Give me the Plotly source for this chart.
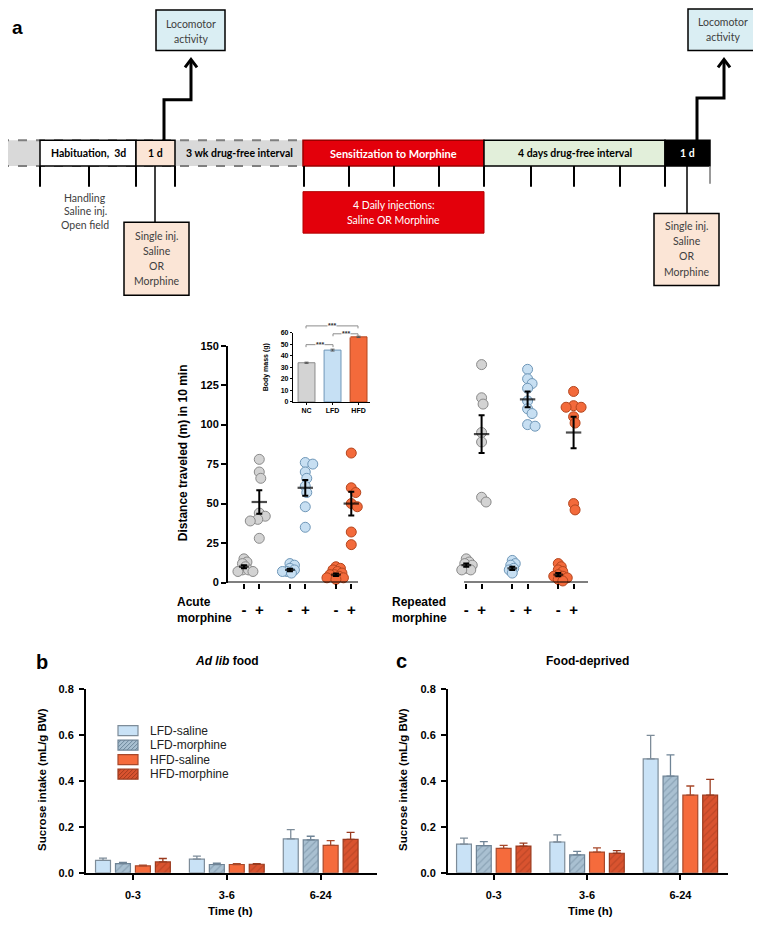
import plotly.graph_objects as go

W, H = 761, 927
OFF = 8  # page offset of the figure (body margin)
def fx(p): return (p - OFF) / W
def fy(p): return 1 - (p - OFF) / H

# ---------------- data ----------------
# panel a: distance traveled (m) in 10 min
acute_nc_saline = [15, 13, 12, 10, 8, 8, 7, 7]
acute_nc_morphine = [78, 70, 66, 44, 42, 40, 39, 28]
acute_lfd_saline = [12, 11, 9, 8, 7, 7, 6]
acute_lfd_morphine = [76, 75, 70, 66, 61, 57, 48, 35]
acute_hfd_saline = [10, 9, 8, 7, 6, 5, 5, 4, 3, 3, 2]
acute_hfd_morphine = [82, 60, 57, 50, 48, 32, 24]
rep_nc_saline = [15, 13, 12, 11, 9, 8, 8]
rep_nc_morphine = [138, 117, 113, 95, 89, 54, 51]
rep_lfd_saline = [14, 12, 11, 9, 8, 6]
rep_lfd_morphine = [135, 129, 126, 123, 115, 110, 107, 100, 99]
rep_hfd_saline = [12, 10, 8, 7, 5, 4, 4, 3, 2, 1]
rep_hfd_morphine = [121, 112, 111, 111, 105, 101, 50, 46]
acute_mean = [10, 51, 8, 60, 5, 50]
acute_sem = [1.0, 7.5, 0.8, 5.0, 0.8, 7.5]
repeated_mean = [11, 94, 9, 116, 5, 95]
repeated_sem = [1.0, 12.0, 1.0, 5.0, 1.0, 10.0]
treatment_labels = ["-", "+"]

# inset: body mass
body_groups = ["NC", "LFD", "HFD"]
body_mass = [34, 45, 56.5]
body_sem = [0.5, 0.8, 0.6]

# panels b, c: sucrose intake
time_labels = ["0-3", "3-6", "6-24"]
series_names = ["LFD-saline", "LFD-morphine", "HFD-saline", "HFD-morphine"]
adlib_lfd_saline = [0.054, 0.059, 0.148]
adlib_lfd_morphine = [0.040, 0.036, 0.143]
adlib_hfd_saline = [0.030, 0.036, 0.119]
adlib_hfd_morphine = [0.047, 0.037, 0.145]
adlib_lfd_saline_sem = [0.010, 0.013, 0.040]
adlib_lfd_morphine_sem = [0.005, 0.006, 0.016]
adlib_hfd_saline_sem = [0.003, 0.004, 0.021]
adlib_hfd_morphine_sem = [0.015, 0.003, 0.031]
fd_lfd_saline = [0.125, 0.134, 0.496]
fd_lfd_morphine = [0.118, 0.078, 0.421]
fd_hfd_saline = [0.106, 0.090, 0.338]
fd_hfd_morphine = [0.116, 0.085, 0.338]
fd_lfd_saline_sem = [0.026, 0.031, 0.103]
fd_lfd_morphine_sem = [0.018, 0.015, 0.093]
fd_hfd_saline_sem = [0.013, 0.018, 0.040]
fd_hfd_morphine_sem = [0.013, 0.011, 0.069]

# ---------------- styles ----------------
ARIAL = "Liberation Sans, Arial, sans-serif"
CAL = "Lato, sans-serif"
grp_fill = {"NC": "#d3d3d3", "LFD": "#c7dff2", "HFD": "#f36a3b"}
grp_edge = {"NC": "#8a8a8a", "LFD": "#6f97b8", "HFD": "#b4461e"}
bar_style = {
    "LFD-saline": dict(color="#c9e2f6", edge="#7d8c99", pattern=None),
    "LFD-morphine": dict(color="#a9c0d1", edge="#6f8496", pattern="#6e889c"),
    "HFD-saline": dict(color="#f56b3c", edge="#a8482a", pattern=None),
    "HFD-morphine": dict(color="#d9532f", edge="#9a3a1e", pattern="#a33b1f"),
}

fig = go.Figure()

# ---------------- beeswarm helper (pixel space) ----------------
XU = 15.33  # px per x unit
YU = 1.6    # px per y unit
def swarm(vals, d=6.0, step=1.5):
    placed, offs = [], []
    cands = [0.0]
    for i in range(1, 40):
        cands += [i * step, -i * step]
    for v in vals:
        yv = v * YU
        for c in cands:
            if all((c - px) ** 2 + (yv - py) ** 2 >= d * d for px, py in placed):
                break
        placed.append((c, yv))
        offs.append(c / XU)
    return offs

acute_sets = [("NC", acute_nc_saline), ("NC", acute_nc_morphine),
              ("LFD", acute_lfd_saline), ("LFD", acute_lfd_morphine),
              ("HFD", acute_hfd_saline), ("HFD", acute_hfd_morphine)]
rep_sets = [("NC", rep_nc_saline), ("NC", rep_nc_morphine),
            ("LFD", rep_lfd_saline), ("LFD", rep_lfd_morphine),
            ("HFD", rep_hfd_saline), ("HFD", rep_hfd_morphine)]

def positions(start):
    out = []
    for g in range(3):
        for t in range(2):
            out.append(start + 3 * g + t)
    return out

acute_pos = positions(0)
rep_pos = positions(14.5)

for sets, pos in ((acute_sets, acute_pos), (rep_sets, rep_pos)):
    for k, ((grp, vals), p) in enumerate(zip(sets, pos)):
        offs = swarm(vals, d=4.2 if k % 2 == 0 else 6.5)
        fig.add_trace(go.Scatter(
            x=[p + o for o in offs], y=vals, mode="markers",
            marker=dict(size=10, color=grp_fill[grp], line=dict(color=grp_edge[grp], width=1)),
            cliponaxis=False, showlegend=False, xaxis="x", yaxis="y", hoverinfo="skip"))

for pos, mean, sem in ((acute_pos, acute_mean, acute_sem), (rep_pos, repeated_mean, repeated_sem)):
    fig.add_trace(go.Scatter(
        x=pos, y=mean, mode="markers",
        marker=dict(symbol="line-ew", size=[7, 11] * 3, line=dict(width=2.2, color="black")),
        error_y=dict(type="data", array=sem, color="black", thickness=2, width=3),
        cliponaxis=False, showlegend=False, xaxis="x", yaxis="y"))

# inset bars
fig.add_trace(go.Bar(
    x=body_groups, y=body_mass, width=0.65,
    marker=dict(color=[grp_fill[g] if g != "LFD" else "#c6e0f4" for g in body_groups],
                line=dict(color=[grp_edge[g] for g in body_groups], width=1)),
    error_y=dict(type="data", array=body_sem, color="#555", thickness=1, width=2),
    showlegend=False, xaxis="x2", yaxis="y2"))

# panels b and c
b_series = [adlib_lfd_saline, adlib_lfd_morphine, adlib_hfd_saline, adlib_hfd_morphine]
b_sems = [adlib_lfd_saline_sem, adlib_lfd_morphine_sem, adlib_hfd_saline_sem, adlib_hfd_morphine_sem]
c_series = [fd_lfd_saline, fd_lfd_morphine, fd_hfd_saline, fd_hfd_morphine]
c_sems = [fd_lfd_saline_sem, fd_lfd_morphine_sem, fd_hfd_saline_sem, fd_hfd_morphine_sem]

for series, sems, xa, ya in ((b_series, b_sems, "x3", "y3"), (c_series, c_sems, "x4", "y4")):
    for name, vals, sem in zip(series_names, series, sems):
        st = bar_style[name]
        marker = dict(color=st["color"], line=dict(color=st["edge"], width=1.2))
        if st["pattern"]:
            marker["pattern"] = dict(shape="/", fgcolor=st["pattern"], bgcolor=st["color"],
                                     size=5, solidity=0.25)
        fig.add_trace(go.Bar(
            x=time_labels, y=vals, name=name, marker=marker,
            error_y=dict(type="data", array=sem, arrayminus=[0] * len(sem), symmetric=False,
                         color=st["edge"], thickness=1.3, width=4),
            showlegend=False, xaxis=xa, yaxis=ya))

# ---------------- timeline (diagram) ----------------
shapes = []
ann = []

def rect(x0, y0, x1, y1, fill, line="black", lw=1.5):
    shapes.append(dict(type="rect", xref="paper", yref="paper",
                       x0=fx(x0), x1=fx(x1), y0=fy(y1), y1=fy(y0),
                       fillcolor=fill, line=dict(color=line, width=lw)))

def seg(x0, y0, x1, y1, color="black", lw=2, dash="solid"):
    shapes.append(dict(type="line", xref="paper", yref="paper",
                       x0=fx(x0), x1=fx(x1), y0=fy(y0), y1=fy(y1),
                       line=dict(color=color, width=lw, dash=dash)))

def path(pts, color="black", lw=3):
    d = "M " + " L ".join(f"{fx(x):.5f},{fy(y):.5f}" for x, y in pts)
    shapes.append(dict(type="path", xref="paper", yref="paper", path=d,
                       line=dict(color=color, width=lw)))

def text(x, y, s, size=10.5, color="#222", bold=False, family=CAL, anchor="center", angle=0,
         yanchor="middle"):
    ann.append(dict(xref="paper", yref="paper", x=fx(x), y=fy(y), text=s, showarrow=False,
                    xanchor=anchor, yanchor=yanchor, textangle=angle,
                    font=dict(family=family, size=size, color=color,
                              weight="bold" if bold else "normal")))

# gray band with dashed edges
shapes.append(dict(type="rect", xref="paper", yref="paper", x0=fx(0), x1=fx(303), y0=fy(162), y1=fy(136),
                   fillcolor="#d9d9d9", line=dict(width=0)))
seg(0, 136, 303, 136, color="#7f7f7f", lw=2, dash="dash")
seg(0, 162, 303, 162, color="#7f7f7f", lw=2, dash="dash")

rect(40, 136, 136, 162, "white")
rect(136, 136, 175, 162, "#fbe5d6")
rect(303, 136, 484, 162, "#e3000b", line="#9a0000")
rect(484, 136, 665, 162, "#e2efda")
rect(665, 136, 710, 162, "black")

for xt in [40, 89, 136, 175, 304, 349, 394, 439, 484, 531, 574, 620, 665]:
    seg(xt, 162, xt, 183, lw=2)
seg(710, 162, 710, 180, color="#777", lw=1.5)

seg(155, 162, 155, 219, lw=1.5)
seg(687, 162, 687, 210, lw=1.5)

rect(124, 219, 189, 293, "#fbe5d6")
rect(654, 210, 719, 283, "#fbe5d6")
rect(303, 188, 484, 230, "#e3000b", line="#b00000", lw=1)
rect(156, 4, 225, 45, "#daeef3")
rect(688, 3, 757, 45, "#daeef3")

path([(164, 136), (164, 95), (191, 95), (191, 55)])
path([(185, 62), (191, 54), (197, 62)])
path([(697, 136), (697, 93), (724, 93), (724, 55)])
path([(718, 62), (724, 54), (730, 62)])

text(88, 149, "Habituation,  3d", bold=True, color="black")
text(155.5, 149, "1 d", bold=True, color="black")
text(239, 149, "3 wk drug-free interval", bold=True, color="black")
text(393.5, 149, "Sensitization to Morphine", bold=True, color="white", size=11)
text(574.5, 149, "4 days drug-free interval", bold=True, color="black")
text(687.5, 149, "1 d", bold=True, color="white")

for i, s in enumerate(["Locomotor", "activity"]):
    text(190.5, 18 + 15 * i, s, size=10.5, color="#404040")
    text(722.5, 16 + 15 * i, s, size=10.5, color="#404040")
for i, s in enumerate(["Handling", "Saline inj.", "Open field"]):
    text(85, 194 + 14 * i, s, size=10.5, color="#404040")
for i, s in enumerate(["Single inj.", "Saline", "OR", "Morphine"]):
    text(156.5, 233 + 15 * i, s, size=10.5, color="#404040")
    text(686.5, 223 + 15.3 * i, s, size=10.5, color="#404040")
text(393.5, 202, "4 Daily injections:", size=10.5, color="white")
text(393.5, 217, "Saline OR Morphine", size=10.5, color="white")

# panel letters and titles
text(10, 9, "a", size=19, bold=True, color="black", family=ARIAL, anchor="left", yanchor="top")
text(42, 665, "b", size=20, bold=True, color="black", family=ARIAL)
text(402, 663, "c", size=20, bold=True, color="black", family=ARIAL)
text(227, 663, "<i>Ad lib</i> food", size=12, bold=True, color="black", family=ARIAL)
text(587, 663, "Food-deprived", size=12, bold=True, color="black", family=ARIAL)

# axis titles
text(183, 453, "Distance traveled (m) in 10 min", size=12, bold=True, color="black", family=ARIAL, angle=-90)
text(266, 366, "Body mass (g)", size=7, bold=True, color="black", family=ARIAL, angle=-90)
text(42, 784, "Sucrose intake (mL/g BW)", size=11.5, bold=True, color="black", family=ARIAL, angle=-90)
text(403, 784, "Sucrose intake (mL/g BW)", size=11.5, bold=True, color="black", family=ARIAL, angle=-90)
text(230, 917, "Time (h)", size=11.5, bold=True, color="black", family=ARIAL)
text(590, 917, "Time (h)", size=11.5, bold=True, color="black", family=ARIAL)
ann.append(dict(xref="paper", yref="paper", x=fx(175), y=fy(612), text="Acute<br>morphine",
                showarrow=False, xanchor="left", yanchor="middle", align="left",
                font=dict(family=ARIAL, size=12, color="black", weight="bold")))
ann.append(dict(xref="paper", yref="paper", x=fx(390), y=fy(612), text="Repeated<br>morphine",
                showarrow=False, xanchor="left", yanchor="middle", align="left",
                font=dict(family=ARIAL, size=12, color="black", weight="bold")))

# x-axis line segments of panel a (broken axis)
shapes.append(dict(type="line", xref="x", yref="y", x0=-1.04, x1=7.44, y0=0, y1=0,
                   line=dict(color="black", width=2)))
shapes.append(dict(type="line", xref="x", yref="y", x0=14.35, x1=22.44, y0=0, y1=0,
                   line=dict(color="black", width=2)))

# inset significance brackets
for (xa, xb, yb) in [(306, 333, 343), (333, 358, 332), (306, 358, 324)]:
    path([(xa, yb + 2.5), (xa, yb), (xb, yb), (xb, yb + 2.5)], color="#8c8c8c", lw=1)
    ann.append(dict(xref="paper", yref="paper", x=fx((xa + xb) / 2), y=fy(yb), text="***",
                    showarrow=False, bgcolor="white", borderpad=0,
                    font=dict(family=ARIAL, size=7, color="#333", weight="bold")))

# manual legend for panel b (swatch 20x10, row pitch 14.7 px)
for i, name in enumerate(series_names):
    st = bar_style[name]
    yc = 734 + 14.7 * i
    x0, x1, y0, y1 = 118, 138, yc - 5, yc + 5
    rect(x0, y0, x1, y1, st["color"], line=st["edge"], lw=1.2)
    if st["pattern"]:
        c = x0 + y0 + 3
        while c < x1 + y1:
            xa = max(x0, c - y1)
            xb = min(x1, c - y0)
            if xb > xa:
                seg(xa, c - xa, xb, c - xb, color=st["pattern"], lw=1)
            c += 4
    text(148, yc, name, size=12, color="#222", family=ARIAL, anchor="left")

# ---------------- layout ----------------
tickfont = dict(family=ARIAL, size=11, color="black", weight="bold")
common = dict(showgrid=False, zeroline=False, linecolor="black", tickcolor="black")

fig.update_layout(
    width=W, height=H, margin=dict(l=0, r=0, t=0, b=0),
    paper_bgcolor="white", plot_bgcolor="rgba(0,0,0,0)",
    barmode="group", bargap=0.15, bargroupgap=0.25, showlegend=False,
    shapes=shapes, annotations=ann,
    xaxis=dict(domain=[fx(228), fx(588)], range=[-1.04, 22.44], anchor="y", showline=False,
               tickvals=acute_pos + rep_pos, ticktext=treatment_labels * 6,
               ticks="outside", ticklen=5, tickwidth=2, ticklabelstandoff=8,
               tickfont=dict(family=ARIAL, size=15, color="black", weight="bold"), **common),
    yaxis=dict(domain=[fy(584), fy(344)], range=[0, 150], anchor="x", showline=True, linewidth=2,
               tickvals=[0, 25, 50, 75, 100, 125, 150], ticks="outside", ticklen=5, tickwidth=2,
               tickfont=tickfont, **common),
    xaxis2=dict(domain=[fx(293), fx(370)], range=[-0.52, 2.44], anchor="y2", type="category",
                showline=True, linewidth=1.2, ticks="outside", ticklen=2, tickwidth=1,
                tickfont=dict(family=ARIAL, size=7, color="black", weight="bold"), **common),
    yaxis2=dict(domain=[fy(401), fy(331)], range=[0, 60], anchor="x2", dtick=10,
                showline=True, linewidth=1.2, ticks="outside", ticklen=2, tickwidth=1,
                tickfont=dict(family=ARIAL, size=7, color="black", weight="bold"), **common),
    xaxis3=dict(domain=[fx(86), fx(377)], range=[-0.5, 2.6], anchor="y3", type="category",
                showline=True, linewidth=2, ticks="outside", ticklen=5, tickwidth=2,
                ticklabelstandoff=6, tickfont=tickfont, **common),
    yaxis3=dict(domain=[fy(878), fy(692)], range=[0, 0.8], anchor="x3", dtick=0.2, tickformat=".1f",
                showline=True, linewidth=2, ticks="outside", ticklen=5, tickwidth=2,
                ticklabelstandoff=3, tickfont=tickfont, **common),
    xaxis4=dict(domain=[fx(448), fx(728)], range=[-0.49, 2.51], anchor="y4", type="category",
                showline=True, linewidth=2, ticks="outside", ticklen=5, tickwidth=2,
                ticklabelstandoff=6, tickfont=tickfont, **common),
    yaxis4=dict(domain=[fy(878), fy(692)], range=[0, 0.8], anchor="x4", dtick=0.2, tickformat=".1f",
                showline=True, linewidth=2, ticks="outside", ticklen=5, tickwidth=2,
                ticklabelstandoff=3, tickfont=tickfont, **common),
)

fig.write_html("out.html")
